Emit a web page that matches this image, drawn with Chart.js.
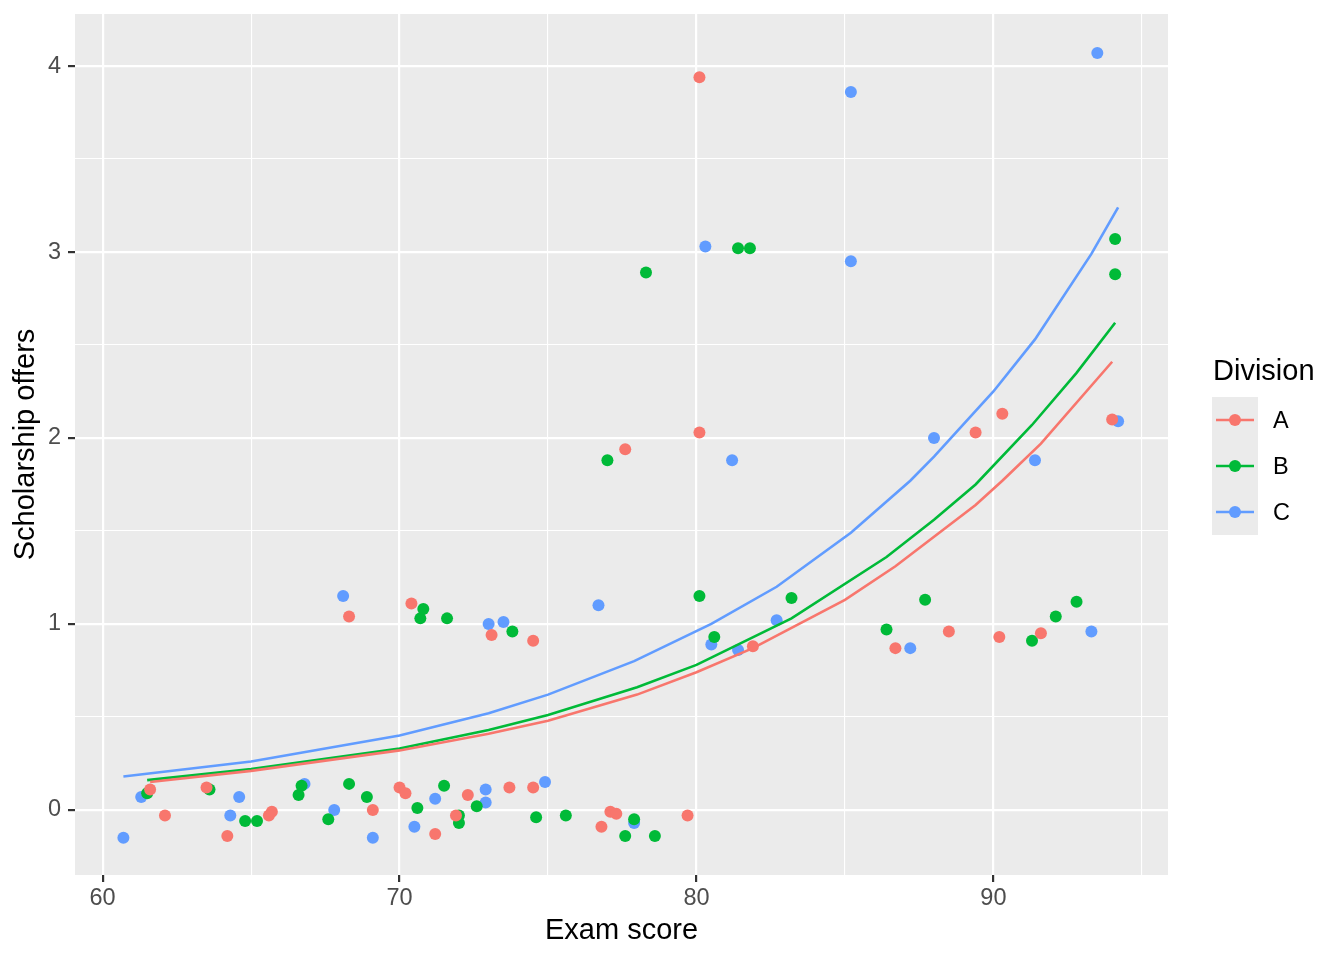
<!DOCTYPE html>
<html lang="en">
<head>
  <meta charset="UTF-8">
  <title>Scholarship offers by exam score</title>
  <script src="https://cdn.jsdelivr.net/npm/chart.js@4.4.1/dist/chart.umd.min.js"></script>
  <style>
    body { margin: 0; background: #fff; }
    canvas { display: block; }
  </style>
</head>
<body>
<canvas id="chart" width="1344" height="960"></canvas>

<script>
  // divisions and their colours
  const divisions = ['A', 'B', 'C'];
  const colors = ['#F8766D', '#00BA38', '#619CFF'];

  const scoreA = [61.6, 62.1, 63.5, 64.2, 65.6, 65.7, 68.3, 69.1, 70.0, 70.2, 70.4, 71.2, 71.9, 72.3, 73.1, 73.7,
    74.5, 74.5, 76.8, 77.1, 77.3, 77.6, 79.7, 80.1, 80.1, 81.9, 86.7, 88.5, 89.4, 90.2, 90.3, 91.6, 94.0];
  const offersA = [0.11, -0.03, 0.12, -0.14, -0.03, -0.01, 1.04, 0.00, 0.12, 0.09, 1.11, -0.13, -0.03, 0.08, 0.94, 0.12,
    0.12, 0.91, -0.09, -0.01, -0.02, 1.94, -0.03, 2.03, 3.94, 0.88, 0.87, 0.96, 2.03, 0.93, 2.13, 0.95, 2.10];

  const scoreB = [61.5, 63.6, 64.8, 65.2, 66.6, 66.7, 67.6, 68.3, 68.9, 70.6, 70.7, 70.8, 71.5, 71.6, 72.0, 72.0,
    72.6, 73.8, 74.6, 75.6, 77.0, 77.6, 77.9, 78.3, 78.6, 80.1, 80.6, 81.4, 81.8, 83.2, 86.4, 87.7, 91.3, 92.1,
    92.8, 94.1, 94.1];
  const offersB = [0.09, 0.11, -0.06, -0.06, 0.08, 0.13, -0.05, 0.14, 0.07, 0.01, 1.03, 1.08, 0.13, 1.03, -0.03, -0.07,
    0.02, 0.96, -0.04, -0.03, 1.88, -0.14, -0.05, 2.89, -0.14, 1.15, 0.93, 3.02, 3.02, 1.14, 0.97, 1.13, 0.91, 1.04,
    1.12, 3.07, 2.88];

  const scoreC = [60.7, 61.3, 64.3, 64.6, 66.8, 67.8, 68.1, 69.1, 70.5, 71.2, 72.9, 72.9, 73.0, 73.5, 74.9, 76.7,
    77.9, 80.3, 80.5, 81.2, 81.4, 82.7, 85.2, 85.2, 87.2, 88.0, 91.4, 93.3, 93.5, 94.2];
  const offersC = [-0.15, 0.07, -0.03, 0.07, 0.14, 0.00, 1.15, -0.15, -0.09, 0.06, 0.04, 0.11, 1.00, 1.01, 0.15, 1.10,
    -0.07, 3.03, 0.89, 1.88, 0.86, 1.02, 3.86, 2.95, 0.87, 2.00, 1.88, 0.96, 4.07, 2.09];

  // fitted curves
  const fitScoreA = [61.6, 65.0, 70.0, 73.0, 75.0, 78.0, 80.0, 81.9, 85.0, 86.7, 89.4, 90.3, 91.6, 94.0];
  const fitOffersA = [0.15, 0.21, 0.32, 0.41, 0.48, 0.62, 0.74, 0.87, 1.13, 1.31, 1.64, 1.77, 1.97, 2.41];
  const fitScoreB = [61.5, 65.0, 70.0, 73.0, 75.0, 78.0, 80.0, 83.2, 86.4, 88.0, 89.4, 91.3, 92.8, 94.1];
  const fitOffersB = [0.16, 0.22, 0.33, 0.43, 0.51, 0.66, 0.78, 1.03, 1.36, 1.56, 1.75, 2.07, 2.35, 2.62];
  const fitScoreC = [60.7, 65.0, 70.0, 73.0, 75.0, 77.9, 80.5, 82.7, 85.2, 87.2, 88.0, 90.0, 91.4, 93.3, 94.2];
  const fitOffersC = [0.18, 0.26, 0.40, 0.52, 0.62, 0.80, 1.00, 1.20, 1.49, 1.77, 1.90, 2.25, 2.53, 2.99, 3.24];

  // tick labels
  const xTicks = [60, 70, 80, 90];
  const yTicks = [0, 1, 2, 3, 4];

  const pts = (xs, ys) => xs.map((x, i) => ({ x: x, y: ys[i] }));
  const scores = [scoreA, scoreB, scoreC];
  const offers = [offersA, offersB, offersC];
  const fitScores = [fitScoreA, fitScoreB, fitScoreC];
  const fitOffers = [fitOffersA, fitOffersB, fitOffersC];

  const datasets = [];
  divisions.forEach((d, i) => {
    datasets.push({
      label: d,
      data: pts(scores[i], offers[i]),
      backgroundColor: colors[i],
      borderWidth: 0,
      pointRadius: 6,
      pointHoverRadius: 6,
      order: 1
    });
    datasets.push({
      label: d + ' fit',
      data: pts(fitScores[i], fitOffers[i]),
      borderColor: colors[i],
      borderWidth: 2.6,
      pointRadius: 0,
      showLine: true,
      fill: false,
      tension: 0,
      order: 0
    });
  });

  const FONT = '"Liberation Sans", Arial, Helvetica, sans-serif';
  Chart.defaults.font.family = FONT;

  const panelBg = {
    id: 'panelBg',
    beforeDraw(chart) {
      const { ctx, chartArea: a } = chart;
      ctx.save();
      ctx.fillStyle = '#EBEBEB';
      ctx.fillRect(a.left, a.top, a.right - a.left, a.bottom - a.top);
      ctx.restore();
    }
  };

  // ggplot style legend with a grey key box
  const divisionLegend = {
    id: 'divisionLegend',
    afterDraw(chart) {
      const ctx = chart.ctx;
      ctx.save();
      ctx.textAlign = 'left';
      ctx.textBaseline = 'middle';
      ctx.fillStyle = '#000';
      ctx.font = '29px ' + FONT;
      ctx.fillText('Division', 1213, 372);
      ctx.fillStyle = '#EBEBEB';
      ctx.fillRect(1212, 397, 46, 138);
      divisions.forEach((d, i) => {
        const cy = 420 + i * 46;
        ctx.strokeStyle = colors[i];
        ctx.lineWidth = 2.6;
        ctx.beginPath();
        ctx.moveTo(1216, cy);
        ctx.lineTo(1254, cy);
        ctx.stroke();
        ctx.fillStyle = colors[i];
        ctx.beginPath();
        ctx.arc(1235, cy, 6, 0, Math.PI * 2);
        ctx.fill();
        ctx.fillStyle = '#000';
        ctx.font = '23.5px ' + FONT;
        ctx.fillText(d, 1273, cy + 2);
      });
      ctx.restore();
    }
  };

  const isMajor = (list, ctx) => ctx.tick && list.includes(Math.round(ctx.tick.value * 100) / 100);

  const ctx = document.getElementById('chart').getContext('2d');
  const myChart = new Chart(ctx, {
    type: 'scatter',
    data: { datasets: datasets },
    plugins: [panelBg, divisionLegend],
    options: {
      responsive: false,
      devicePixelRatio: 1,
      animation: false,
      events: [],
      layout: { padding: { top: 14, right: 176, left: 0, bottom: 0 } },
      plugins: {
        legend: { display: false },
        tooltip: { enabled: false }
      },
      scales: {
        x: {
          type: 'linear',
          min: 59.07,
          max: 95.88,
          afterFit: s => { s.height = 85; s.paddingLeft = 0; s.paddingRight = 0; },
          border: { display: false },
          grid: {
            color: '#FFFFFF',
            lineWidth: c => isMajor(xTicks, c) ? 2.2 : 1.1,
            tickLength: 7,
            tickWidth: 2.2,
            tickColor: c => isMajor(xTicks, c) ? '#333333' : 'rgba(0,0,0,0)'
          },
          ticks: {
            stepSize: 5,
            includeBounds: false,
            autoSkip: false,
            maxRotation: 0,
            padding: 2,
            color: '#4D4D4D',
            font: { size: 23.5 },
            callback: v => xTicks.includes(v) ? String(v) : ''
          },
          title: {
            display: true,
            text: 'Exam score',
            color: '#000',
            font: { size: 29 },
            padding: { top: 0, bottom: 12 }
          }
        },
        y: {
          type: 'linear',
          min: -0.35,
          max: 4.28,
          afterFit: s => { s.width = 75; s.paddingTop = 0; s.paddingBottom = 0; },
          border: { display: false },
          grid: {
            color: '#FFFFFF',
            lineWidth: c => isMajor(yTicks, c) ? 2.2 : 1.1,
            tickLength: 7,
            tickWidth: 2.2,
            tickColor: c => isMajor(yTicks, c) ? '#333333' : 'rgba(0,0,0,0)'
          },
          ticks: {
            stepSize: 0.5,
            includeBounds: false,
            autoSkip: false,
            padding: 7,
            color: '#4D4D4D',
            font: { size: 23.5 },
            callback: v => yTicks.includes(v) ? String(v) : ''
          },
          title: {
            display: true,
            text: 'Scholarship offers',
            color: '#000',
            font: { size: 29 },
            padding: { top: 9, bottom: 0 }
          }
        }
      }
    }
  });
</script>
</body>
</html>
